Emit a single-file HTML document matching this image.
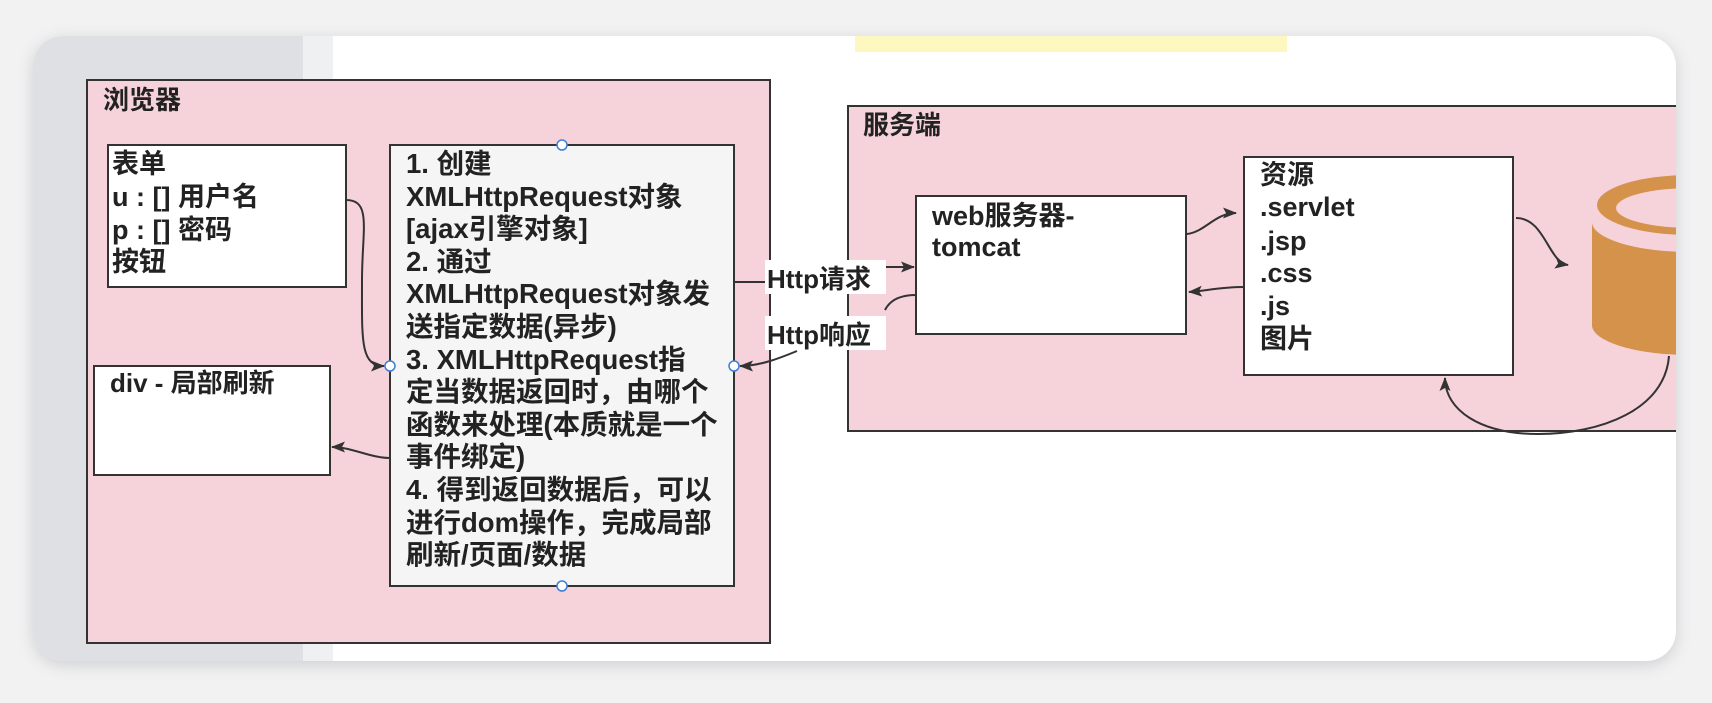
<!DOCTYPE html>
<html><head><meta charset="utf-8"><style>
html,body{margin:0;padding:0;background:#f2f2f3;}
body{width:1712px;height:698px;overflow:hidden;position:relative;}
text{font-family:"Liberation Sans","Noto Sans CJK SC",sans-serif;font-weight:bold;fill:#222;}
</style></head><body>
<svg width="1712" height="698" viewBox="0 0 1712 698" xmlns="http://www.w3.org/2000/svg">
<defs>
<filter id="sh" x="-5%" y="-10%" width="110%" height="120%"><feGaussianBlur stdDeviation="8"/></filter>
<clipPath id="card"><rect x="33" y="36" width="1643" height="625" rx="30"/></clipPath>
<marker id="ar" markerWidth="14" markerHeight="11" refX="13" refY="5.5" orient="auto" markerUnits="userSpaceOnUse">
<path d="M0,0 L14,5.5 L0,11 L3,5.5 Z" fill="#333"/></marker>
</defs>
<rect x="33" y="40" width="1643" height="625" rx="30" fill="#cfcfd2" filter="url(#sh)"/>
<g clip-path="url(#card)">
<rect x="33" y="36" width="1643" height="625" fill="#fff"/>
<rect x="33" y="36" width="270" height="625" fill="#dfe0e3"/>
<rect x="303" y="36" width="30" height="625" fill="#eef0f2"/>
<rect x="855" y="36" width="432" height="16" fill="#fdf8c0"/>

<!-- browser -->
<rect x="87" y="80" width="683" height="563" fill="#f6d3da" stroke="#333" stroke-width="2"/>
<text x="103" y="109" font-size="26">浏览器</text>
<rect x="108" y="145" width="238" height="142" fill="#fff" stroke="#333" stroke-width="2"/>
<text font-size="27"><tspan x="112" y="173">表单</tspan><tspan x="112" y="206">u : [] 用户名</tspan><tspan x="112" y="239">p : [] 密码</tspan><tspan x="112" y="271">按钮</tspan></text>
<rect x="94" y="366" width="236" height="109" fill="#fff" stroke="#333" stroke-width="2"/>
<text x="110" y="392" font-size="26">div - 局部刷新</text>
<rect x="390" y="145" width="344" height="441" fill="#f5f5f5" stroke="#333" stroke-width="2"/>
<text font-size="27.5">
<tspan x="406" y="173">1. 创建</tspan>
<tspan x="406" y="206">XMLHttpRequest对象</tspan>
<tspan x="406" y="238">[ajax引擎对象]</tspan>
<tspan x="406" y="271">2. 通过</tspan>
<tspan x="406" y="303">XMLHttpRequest对象发</tspan>
<tspan x="406" y="336">送指定数据(异步)</tspan>
<tspan x="406" y="369">3. XMLHttpRequest指</tspan>
<tspan x="406" y="401">定当数据返回时，由哪个</tspan>
<tspan x="406" y="434">函数来处理(本质就是一个</tspan>
<tspan x="406" y="466">事件绑定)</tspan>
<tspan x="406" y="499">4. 得到返回数据后，可以</tspan>
<tspan x="406" y="532">进行dom操作，完成局部</tspan>
<tspan x="406" y="564">刷新/页面/数据</tspan>
</text>
<g fill="#fff" stroke="#3b7fd9" stroke-width="1.5">
<circle cx="562" cy="145" r="5"/><circle cx="562" cy="586" r="5"/><circle cx="390" cy="366" r="5"/><circle cx="734" cy="366" r="5"/></g>
<g fill="none" stroke="#333" stroke-width="2">
<path d="M346,200 C372,200 362,230 362,280 C362,340 360,366 384,366" marker-end="url(#ar)"/>
<path d="M390,458 C370,458 352,447 332,447" marker-end="url(#ar)"/>
</g>

<!-- server -->
<rect x="848" y="106" width="840" height="325" fill="#f6d3da" stroke="#333" stroke-width="2"/>
<text x="863" y="134" font-size="26">服务端</text>
<rect x="916" y="196" width="270" height="138" fill="#fff" stroke="#333" stroke-width="2"/>
<text font-size="27"><tspan x="932" y="225">web服务器-</tspan><tspan x="932" y="256">tomcat</tspan></text>
<rect x="1244" y="157" width="269" height="218" fill="#fff" stroke="#333" stroke-width="2"/>
<text font-size="27"><tspan x="1260" y="184">资源</tspan><tspan x="1260" y="216">.servlet</tspan><tspan x="1260" y="250">.jsp</tspan><tspan x="1260" y="282">.css</tspan><tspan x="1260" y="315">.js</tspan><tspan x="1260" y="348">图片</tspan></text>
<!-- cylinder -->
<path d="M1592,222 A98,30 0 0 0 1788,222 L1788,325 A98,30 0 0 1 1592,325 Z" fill="#d4924a"/>
<ellipse cx="1690" cy="205" rx="93" ry="30" fill="#d4924a"/>
<ellipse cx="1692" cy="208" rx="76" ry="20" fill="#f6d3da"/>
<g fill="none" stroke="#333" stroke-width="2">
<path d="M1187,234 C1205,232 1215,213 1236,213" marker-end="url(#ar)"/>
<path d="M1244,287 C1220,287 1205,291 1189,292" marker-end="url(#ar)"/>
<path d="M1516,218 C1545,218 1548,262 1568,265" marker-end="url(#ar)"/>
<path d="M1669,356 C1665,410 1600,434 1538,434 C1480,434 1445,410 1445,378" marker-end="url(#ar)"/>
<path d="M734,282 L765,282"/>
<path d="M883,267 L914,267" marker-end="url(#ar)"/>
<path d="M916,295 C900,295 890,300 885,310"/>
<path d="M797,351 C780,358 760,366 740,366" marker-end="url(#ar)"/>
</g>
<rect x="765" y="260" width="121" height="34" fill="#fff"/>
<text x="767" y="288" font-size="26">Http请求</text>
<rect x="765" y="316" width="121" height="34" fill="#fff"/>
<text x="767" y="344" font-size="26">Http响应</text>
</g>
</svg>
</body></html>
